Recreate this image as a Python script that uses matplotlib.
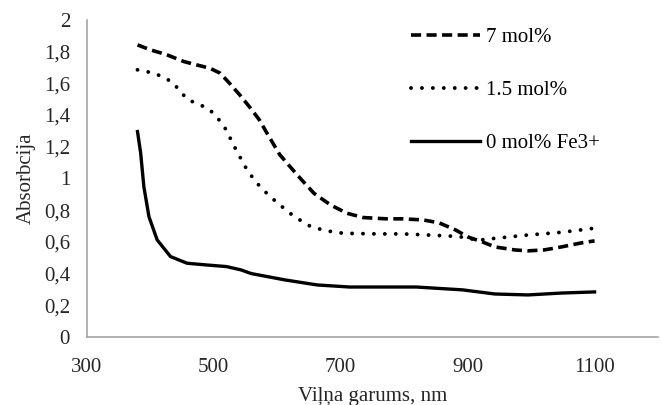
import matplotlib.pyplot as plt
from matplotlib.ticker import FuncFormatter

# 7 mol%
wl_7 = [380, 401, 426, 453, 473, 494, 510, 525, 541, 556, 572, 584, 604, 632, 658, 684,
        710, 736, 772, 798, 830, 855, 881, 901, 923, 943, 974, 995, 1021, 1048, 1079, 1100]
abs_7 = [1.842, 1.81, 1.78, 1.737, 1.716, 1.695, 1.664, 1.60, 1.527, 1.453, 1.369, 1.285,
         1.15, 1.02, 0.906, 0.833, 0.78, 0.753, 0.745, 0.745, 0.738, 0.72, 0.675, 0.63,
         0.60, 0.568, 0.549, 0.543, 0.549, 0.568, 0.593, 0.606]

# 1.5 mol%
wl_15 = [380, 406, 424, 437, 447, 460, 479, 494, 504, 515, 523, 530, 538, 554, 575, 601,
         627, 653, 678, 704, 756, 798, 870, 892, 917, 938, 995, 1048, 1100]
abs_15 = [1.685, 1.664, 1.632, 1.60, 1.548, 1.495, 1.464, 1.432, 1.39, 1.338, 1.28, 1.22,
          1.16, 1.043, 0.938, 0.843, 0.759, 0.696, 0.669, 0.654, 0.65, 0.65, 0.637, 0.63,
          0.61, 0.62, 0.643, 0.66, 0.686]

# 0 mol% Fe3+
wl_0 = [380, 385, 390, 398, 411, 432, 458, 489, 520, 543, 559, 612, 663, 714, 819, 892,
        943, 995, 1048, 1100]
abs_0 = [1.295, 1.159, 0.948, 0.759, 0.612, 0.507, 0.465, 0.454, 0.444, 0.423, 0.40, 0.36,
         0.328, 0.315, 0.315, 0.297, 0.271, 0.265, 0.277, 0.284]

x_ticks = [300, 500, 700, 900, 1100]
y_ticks = [0, 0.2, 0.4, 0.6, 0.8, 1, 1.2, 1.4, 1.6, 1.8, 2]

plt.rcParams['font.family'] = ['Liberation Serif', 'DejaVu Serif']

fig = plt.figure(figsize=(6.62, 4.05), dpi=100)
ax = fig.add_axes([0.131, 0.168, 0.863, 0.783])

ax.plot(wl_7, abs_7, color='black', lw=2.6, linestyle=(0, (2.8, 1.5)),
        solid_joinstyle='round', label='7 mol%')
ax.plot(wl_15, abs_15, color='black', lw=2.8, linestyle=(0, (0.01, 2.8)),
        dash_capstyle='round', label='1.5 mol%')
ax.plot(wl_0, abs_0, color='black', lw=2.4, solid_joinstyle='round',
        label='0 mol% Fe3+')

ax.set_xlim(300, 1200)
ax.set_ylim(0, 2)
ax.set_xticks(x_ticks)
ax.set_yticks(y_ticks)
ax.yaxis.set_major_formatter(FuncFormatter(lambda v, p: ('%g' % v).replace('.', ',')))
ax.tick_params(length=0, labelsize=15, colors='#262626')
ax.tick_params(axis='y', pad=12)
ax.tick_params(axis='x', pad=15)

for s in ['top', 'right']:
    ax.spines[s].set_visible(False)
for s in ['left', 'bottom']:
    ax.spines[s].set_color('#a6a6a6')
    ax.spines[s].set_linewidth(1.2)

ax.set_xlabel('Viļņa garums, nm', fontsize=15, color='#262626', labelpad=7)
ax.set_ylabel('Absorbcija', fontsize=15, color='#262626', labelpad=6)

ax.legend(loc='upper left', bbox_to_anchor=(0.535, 1.035), frameon=False, fontsize=15,
          handlelength=3.3, handletextpad=0.3, labelspacing=1.6)

fig.savefig('out.png', dpi=100)
